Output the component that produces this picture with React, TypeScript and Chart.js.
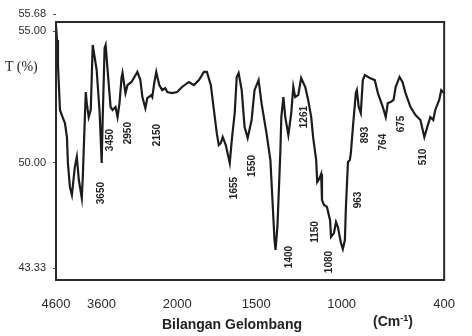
import React, { useEffect, useRef } from "react";
import { Chart, LinearScale, registerables } from "chart.js";

// ---- data (wavenumber in cm-1, transmittance in %) ----
const wavenumbers = [
  4600, 4578, 4557, 4535, 4514, 4449, 4406, 4362, 4341, 4298,
  4254, 4190, 4147, 4103, 4039, 4017, 3974, 3952, 3931, 3888,
  3844, 3801, 3715, 3650, 3595, 3568, 3514, 3486, 3432, 3350,
  3295, 3214, 3159, 3105, 3050, 3023, 2941, 2886, 2777, 2695,
  2614, 2532, 2477, 2395, 2341, 2232, 2205, 2150, 2137, 2117,
  2098, 2078, 2065, 2033, 2000, 1968, 1923, 1890, 1857, 1824,
  1805, 1779, 1759, 1740, 1727, 1714, 1701, 1681, 1655, 1643,
  1626, 1614, 1603, 1585, 1568, 1550, 1527, 1510, 1486, 1469,
  1440, 1417, 1405, 1393, 1387, 1376, 1359, 1353, 1341, 1330,
  1312, 1295, 1283, 1272, 1254, 1237, 1213, 1196, 1178, 1167,
  1149, 1143, 1132, 1120, 1115, 1103, 1086, 1068, 1062, 1045,
  1033, 1022, 1004, 993, 981, 975, 963, 952, 946, 934,
  917, 911, 900, 888, 876, 864, 835, 806, 788, 759,
  742, 730, 713, 696, 684, 661, 644, 626, 597, 568,
  539, 516, 499, 481, 464, 452, 429, 417, 400,
];
const transmittance = [
  55.24, 54.66, 53.71, 52.84, 52.01, 51.7, 51.51, 50.98, 50.0, 48.48,
  47.97, 49.75, 50.23, 48.92, 47.78, 49.11, 51.63, 52.69, 52.27, 51.74,
  52.01, 54.47, 53.52, 51.89, 50.0, 51.63, 54.36, 54.47, 53.52, 52.12,
  52.01, 52.12, 51.74, 52.27, 53.22, 53.41, 52.65, 52.95, 53.07, 53.26,
  53.45, 53.14, 52.5, 52.08, 52.46, 52.57, 52.5, 53.03, 53.45, 52.95,
  52.76, 52.84, 52.69, 52.65, 52.69, 52.88, 53.07, 52.95, 53.14, 53.45,
  53.45, 52.95, 52.01, 51.13, 50.68, 50.75, 50.98, 50.68, 50.0, 50.87,
  51.89, 53.26, 53.41, 52.76, 51.36, 50.95, 51.63, 52.76, 53.14, 52.27,
  51.13, 50.11, 47.65, 45.11, 44.48, 45.94, 50.38, 51.74, 52.5, 51.74,
  51.06, 51.89, 52.88, 52.5, 52.57, 53.22, 52.88, 52.39, 51.74, 50.98,
  50.11, 48.79, 48.98, 49.3, 47.65, 47.33, 47.21, 46.38, 45.3, 45.55,
  46.25, 45.94, 44.92, 44.54, 45.11, 47.21, 50.04, 50.11, 50.38, 51.36,
  52.65, 52.76, 52.12, 51.89, 53.14, 53.33, 53.22, 53.14, 52.65, 52.12,
  51.74, 52.27, 52.31, 52.39, 52.88, 53.26, 53.07, 52.65, 52.12, 51.82,
  51.63, 50.98, 51.36, 51.74, 51.63, 52.01, 52.39, 52.76, 52.65,
];
const xTickValues = [4600, 3600, 2000, 1500, 1000, 400];
const yTickValues = [55.68, 55.0, 50.0, 43.33];

// peak annotations: text and anchor (wavenumber, %T)
const peakTexts = ["3650", "3450", "2950", "2150", "1655", "1550", "1400", "1261", "1150", "1080", "963", "893", "764", "675", "510"];
const peakAnchorX = [3595, 3350, 2859, 2130, 1626, 1521, 1306, 1219, 1155, 1074, 900, 859, 754, 650, 522];
const peakAnchorY = [48.09, 50.87, 51.13, 51.06, 48.41, 49.81, 44.03, 51.74, 45.62, 43.71, 47.65, 51.06, 50.79, 51.48, 50.23];

// ---- piecewise axis (the printed spectrum uses non-uniform axes) ----
const xBreaks: [number, number][] = [[4600, 0], [3650, 0.1125], [2150, 0.2532], [1655, 0.4476], [400, 1]];
const yBreaks: [number, number][] = [[42.57, 0], [50, 0.4535], [55, 0.965], [55.68, 1.031]];
const BREAKS: Record<string, [number, number][]> = { x: xBreaks, y: yBreaks };

function interp(pts: [number, number][], v: number) {
  let i = 0;
  while (i < pts.length - 2 && v > pts[i + 1][0]) i++;
  const [a0, b0] = pts[i];
  const [a1, b1] = pts[i + 1];
  return b0 + ((v - a0) * (b1 - b0)) / (a1 - a0);
}
function toFraction(breaks: [number, number][], v: number) {
  const pts = [...breaks].sort((p, q) => p[0] - q[0]);
  return interp(pts, v);
}
function fromFraction(breaks: [number, number][], f: number) {
  const pts = breaks.map((p) => [p[1], p[0]] as [number, number]).sort((p, q) => p[0] - q[0]);
  return interp(pts, f);
}

class PiecewiseScale extends LinearScale {
  static id = "piecewise";
  static defaults = {};
  getPixelForValue(value: any) {
    if (value === null || value === undefined || isNaN(value)) return NaN;
    return this.getPixelForDecimal(toFraction(BREAKS[(this as any).id], value));
  }
  getValueForPixel(pixel: number) {
    return fromFraction(BREAKS[(this as any).id], this.getDecimalForPixel(pixel));
  }
}

Chart.register(...registerables, PiecewiseScale as any);

const SANS = "'Liberation Sans', Arial, Helvetica, sans-serif";

const framePlugin = {
  id: "frame",
  afterDatasetsDraw(chart: any) {
    const { ctx, chartArea: a } = chart;
    ctx.save();
    ctx.strokeStyle = "#2a2a2a";
    ctx.lineWidth = 2;
    ctx.strokeRect(a.left, a.top, a.right - a.left, a.bottom - a.top);
    ctx.restore();
  },
};

const peakLabelPlugin = {
  id: "peakLabels",
  afterDatasetsDraw(chart: any) {
    const { ctx } = chart;
    const xs = chart.scales.x;
    const ys = chart.scales.y;
    ctx.save();
    ctx.fillStyle = "#222";
    ctx.font = `bold 10px ${SANS}`;
    ctx.textAlign = "center";
    ctx.textBaseline = "middle";
    peakTexts.forEach((t, i) => {
      const px = xs.getPixelForValue(peakAnchorX[i]);
      const py = ys.getPixelForValue(peakAnchorY[i]);
      ctx.save();
      ctx.translate(px, py);
      ctx.rotate(-Math.PI / 2);
      ctx.fillText(t, 0, 0);
      ctx.restore();
    });
    ctx.restore();
  },
};

export default function App() {
  const ref = useRef<HTMLCanvasElement | null>(null);
  useEffect(() => {
    if (!ref.current) return;
    const chart = new Chart(ref.current, {
      type: "line",
      data: {
        datasets: [
          {
            data: wavenumbers.map((w, i) => ({ x: w, y: transmittance[i] })),
            borderColor: "#1c1c1c",
            borderWidth: 2.2,
            pointRadius: 0,
            tension: 0,
            fill: false,
          },
        ],
      },
      options: {
        responsive: false,
        animation: false,
        events: [],
        layout: { padding: { left: 0, right: 25, top: 22, bottom: 0 } },
        plugins: { legend: { display: false }, tooltip: { enabled: false } },
        scales: {
          x: {
            type: "piecewise" as any,
            min: 400,
            max: 4600,
            grid: { display: false, drawTicks: false },
            border: { display: false },
            afterBuildTicks: (s: any) => {
              s.ticks = xTickValues.map((v) => ({ value: v }));
            },
            afterFit: (s: any) => {
              s.height = 56;
            },
            ticks: {
              autoSkip: false,
              maxRotation: 0,
              padding: 17,
              color: "#2a2a2a",
              font: { family: SANS, size: 13 },
              callback: (v: any) => String(v),
            },
          },
          y: {
            type: "piecewise" as any,
            min: 42.57,
            max: 55.36,
            grid: { display: true, drawOnChartArea: false, drawTicks: true, tickLength: 3, color: "#555" },
            border: { display: false },
            afterBuildTicks: (s: any) => {
              s.ticks = yTickValues.map((v) => ({ value: v }));
            },
            afterFit: (s: any) => {
              s.width = 56;
            },
            ticks: {
              padding: 7,
              color: "#2a2a2a",
              font: { family: SANS, size: 11 },
              callback: (v: any) => Number(v).toFixed(2),
            },
          },
        },
      },
      plugins: [framePlugin, peakLabelPlugin],
    });
    return () => chart.destroy();
  }, []);

  return (
    <div style={{ position: "fixed", left: 0, top: 0, width: 472, height: 336, background: "#fff", overflow: "hidden" }}>
      <canvas ref={ref} width={472} height={336} style={{ display: "block" }} />
      <span
        style={{
          position: "absolute", left: 5, top: 60, fontFamily: "'Liberation Serif', 'Times New Roman', serif",
          fontSize: 14, lineHeight: "14px", color: "#222", whiteSpace: "nowrap",
        }}
      >
        T (%)
      </span>
      <span
        style={{
          position: "absolute", left: 162, top: 317, fontFamily: SANS, fontWeight: "bold",
          fontSize: 14, lineHeight: "14px", color: "#222", whiteSpace: "nowrap",
        }}
      >
        Bilangan Gelombang
      </span>
      <span
        style={{
          position: "absolute", left: 373, top: 314, fontFamily: SANS, fontWeight: "bold",
          fontSize: 14, lineHeight: "14px", color: "#222", whiteSpace: "nowrap",
        }}
      >
        (Cm<sup style={{ fontSize: 9, verticalAlign: "5px", lineHeight: 0 }}>-1</sup>)
      </span>
    </div>
  );
}
